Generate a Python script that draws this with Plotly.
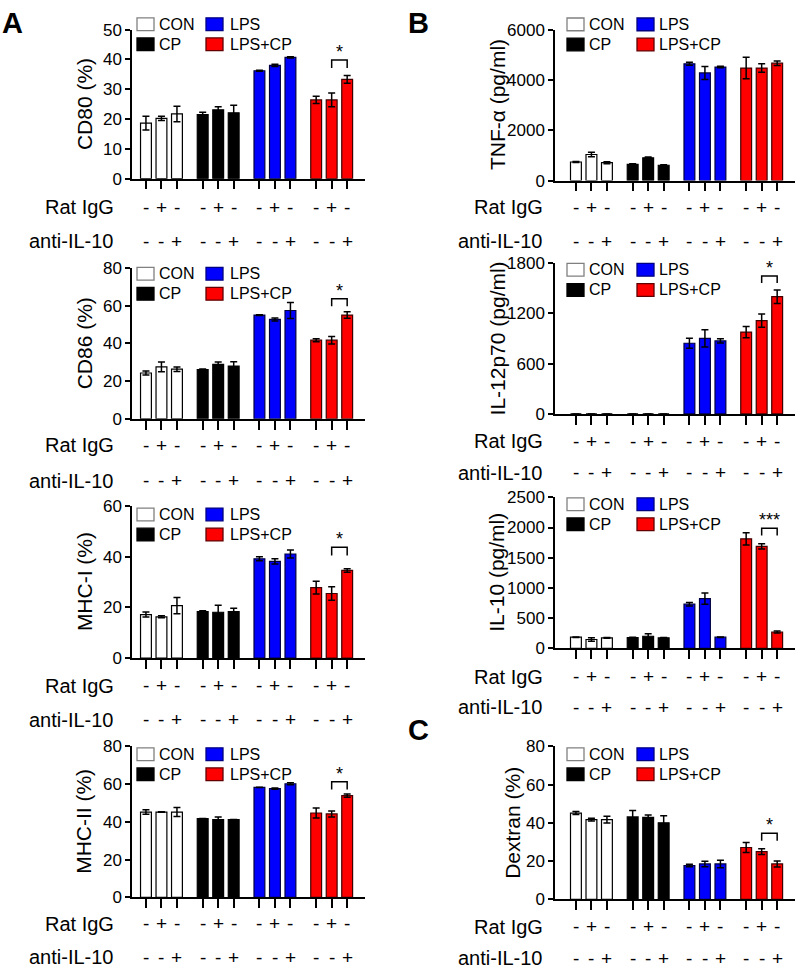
import plotly.graph_objects as go

W, H = 796, 976
FONT = "Liberation Sans, Arial, sans-serif"

# ---------------- data ----------------
groups = ["CON", "CP", "LPS", "LPS+CP"]
rat_igg = ["-", "+", "-"] * 4
anti_il10 = ["-", "-", "+"] * 4

cd80 = [18.6, 20.2, 21.7, 21.5, 23.1, 22.1, 36.2, 38.0, 40.7, 26.4, 26.4, 33.3]
cd80_err = [2.3, 0.7, 2.6, 0.8, 1.0, 2.5, 0.2, 0.4, 0.2, 1.2, 2.3, 1.3]

cd86 = [24.3, 27.5, 26.3, 26.1, 28.9, 28.0, 55.0, 52.7, 57.4, 41.7, 41.7, 55.0]
cd86_err = [1.0, 2.6, 1.2, 0.3, 1.2, 2.2, 0.2, 0.8, 4.2, 0.8, 2.0, 1.7]

mhc1 = [17.2, 16.3, 20.7, 18.4, 18.1, 18.4, 39.2, 38.2, 41.1, 27.8, 25.5, 34.6]
mhc1_err = [1.0, 0.4, 3.2, 0.3, 2.8, 1.3, 0.8, 1.0, 1.6, 2.5, 2.7, 0.7]

mhc2 = [45.2, 45.2, 45.2, 41.7, 41.2, 41.2, 58.3, 57.6, 60.2, 44.7, 44.2, 53.9]
mhc2_err = [1.2, 0.1, 2.4, 0.1, 1.4, 0.1, 0.1, 0.3, 0.5, 2.7, 1.6, 0.9]

tnf = [739, 1037, 713, 648, 907, 609, 4639, 4277, 4510, 4471, 4471, 4665]
tnf_err = [20, 90, 40, 20, 30, 20, 60, 260, 30, 428, 170, 90]

il12 = [0, 0, 0, 0, 0, 0, 843, 902, 871, 976, 1113, 1398]
il12_err = [0, 0, 0, 0, 0, 0, 59, 103, 25, 68, 78, 80]

il10 = [184, 146, 173, 179, 200, 173, 730, 822, 184, 1812, 1688, 270]
il10_err = [5, 30, 5, 5, 40, 5, 30, 92, 5, 100, 45, 15]

dextran = [45.1, 41.7, 41.7, 43.1, 42.9, 40.0, 17.7, 18.5, 18.5, 27.1, 24.9, 18.5]
dextran_err = [0.8, 0.7, 1.8, 3.3, 1.2, 3.7, 0.7, 1.4, 2.0, 2.6, 1.5, 1.6]

# y-axis titles, ranges, tick step, significance (bracket level, leg level, label)
titles = ["CD80 (%)", "CD86 (%)", "MHC-I (%)", "MHC-II (%)",
          "TNF-α (pg/ml)", "IL-12p70 (pg/ml)", "IL-10 (pg/ml)", "Dextran (%)"]
values = [cd80, cd86, mhc1, mhc2, tnf, il12, il10, dextran]
errors = [cd80_err, cd86_err, mhc1_err, mhc2_err, tnf_err, il12_err, il10_err, dextran_err]
ymax = [50, 80, 60, 80, 6000, 1800, 2500, 80]
ystep = [10, 20, 20, 20, 2000, 600, 500, 20]
sig = [(39.8, 37.1, "*"), (63.7, 59.7, "*"), (43.8, 40.5, "*"), (61.2, 57.2, "*"),
       None, (1644, 1562, "*"), (1986, 1866, "***"), (34.5, 30.6, "*")]

# ---------------- styles / layout geometry ----------------
fills = ["white", "black", "#0000ff", "#ff0000"]
edges = ["black", "black", "#000040", "#400000"]
swatch_lines = ["#808080", "black", "#000080", "#600000"]

LEFT = dict(x0=132, x1=365, xr=[-0.9, 14.13], tx=84, sw=137, st=157, sw2=206, st2=228, lab=116)
RIGHT = dict(x0=555, x1=795, xr=[-1.35, 14.13], tx=497, sw=567, st=587, sw2=637, st2=657, lab=545)
geo = [
    dict(c=LEFT, top=21, bot=173, rat=202, anti=237, leg=15.5),
    dict(c=LEFT, top=264, bot=418, rat=445, anti=481, leg=270),
    dict(c=LEFT, top=507, bot=662, rat=690, anti=725, leg=515.5),
    dict(c=LEFT, top=752, bot=906, rat=933, anti=967, leg=760),
    dict(c=RIGHT, top=21, bot=175, rat=202, anti=237, leg=15.7),
    dict(c=RIGHT, top=259, bot=413, rat=441, anti=473, leg=266),
    dict(c=RIGHT, top=498, bot=652, rat=681, anti=712, leg=505),
    dict(c=RIGHT, top=752, bot=908, rat=936, anti=968, leg=760, tx=513),
]

GROUP_STEP = 3.66
xs = [g * GROUP_STEP + i for g in range(4) for i in range(3)]


def px(x):
    return x / W


def py(y):
    return 1 - y / H


fig = go.Figure()
annotations = []
shapes = []
layout = {}

for k in range(8):
    g = geo[k]
    c = g["c"]
    suf = "" if k == 0 else str(k + 1)
    xa, ya = "x" + suf, "y" + suf
    vals, errs = values[k], errors[k]

    for gi, grp in enumerate(groups):
        sl = slice(gi * 3, gi * 3 + 3)
        fig.add_trace(go.Bar(
            x=xs[sl], y=vals[sl], width=0.7, name=grp, showlegend=False,
            marker=dict(color=fills[gi], line=dict(color=edges[gi], width=1.2)),
            error_y=dict(type="data", array=errs[sl], color="black", thickness=1.5, width=3.5),
            xaxis=xa, yaxis=ya,
        ))

    layout["xaxis" + suf] = dict(
        domain=[px(c["x0"]), px(c["x1"])], range=c["xr"], anchor=ya,
        tickvals=xs, ticktext=[""] * len(xs), ticks="outside", ticklen=9,
        tickwidth=1.5, tickcolor="black", showline=True, linecolor="black",
        linewidth=1.5, showgrid=False, zeroline=False, fixedrange=True,
    )
    layout["yaxis" + suf] = dict(
        domain=[py(g["bot"]), py(g["top"])], range=[0, ymax[k]], anchor=xa,
        tickvals=list(range(0, ymax[k] + 1, ystep[k])), ticks="outside", ticklen=5,
        tickwidth=1.5, tickcolor="black", showline=True, linecolor="black",
        linewidth=1.5, showgrid=False, zeroline=False, fixedrange=True,
        tickfont=dict(size=17, color="black", family=FONT),
    )

    # y-axis title
    annotations.append(dict(
        text=titles[k], xref="paper", yref="paper", x=px(g.get("tx", c["tx"])),
        y=py((g["top"] + g["bot"]) / 2), textangle=-90, showarrow=False,
        xanchor="center", yanchor="middle", font=dict(size=21, color="black", family=FONT),
    ))

    # treatment rows
    for label, row, key in (("Rat IgG", rat_igg, "rat"), ("anti-IL-10", anti_il10, "anti")):
        annotations.append(dict(
            text=label, xref="paper", yref="paper", x=px(c["lab"]), y=py(g[key]),
            xanchor="right", yanchor="middle", showarrow=False,
            font=dict(size=20, color="black", family=FONT),
        ))
        for xi, s in zip(xs, row):
            annotations.append(dict(
                text=s, xref=xa, yref="paper", x=xi, y=py(g[key]),
                xanchor="center", yanchor="middle", showarrow=False,
                font=dict(size=19, color="black", family=FONT),
            ))

    # legend (two rows x two columns)
    for gi, grp in enumerate(groups):
        col = gi // 2
        row = gi % 2
        yc = g["leg"] + 20.5 * row
        sx = c["sw"] if col == 0 else c["sw2"]
        tx = c["st"] if col == 0 else c["st2"]
        shapes.append(dict(
            type="rect", xref="paper", yref="paper",
            x0=px(sx), x1=px(sx + 17), y0=py(yc + 6.5), y1=py(yc - 6.5),
            fillcolor=fills[gi], line=dict(color=swatch_lines[gi], width=1.3),
        ))
        annotations.append(dict(
            text=grp, xref="paper", yref="paper", x=px(tx), y=py(yc),
            xanchor="left", yanchor="middle", showarrow=False,
            font=dict(size=16, color="black", family=FONT),
        ))

    # significance bracket
    if sig[k] is not None:
        yb, yl, lab = sig[k]
        xa0, xa1 = xs[10], xs[11]
        shapes.append(dict(
            type="path", xref=xa, yref=ya,
            path=f"M {xa0},{yl} L {xa0},{yb} L {xa1},{yb} L {xa1},{yl}",
            line=dict(color="black", width=1.5),
        ))
        annotations.append(dict(
            text=lab, xref=xa, yref=ya, x=(xa0 + xa1) / 2, y=yb,
            xanchor="center", yanchor="bottom", yshift=-4, showarrow=False,
            font=dict(size=18, color="black", family=FONT),
        ))

# panel letters
for letter, (lx, ly) in zip("ABC", [(12, 14), (418, 14), (418, 735)]):
    annotations.append(dict(
        text=f"<b>{letter}</b>", xref="paper", yref="paper", x=px(lx), y=py(ly),
        xanchor="center", yanchor="middle", showarrow=False,
        font=dict(size=29, color="black", family=FONT),
    ))

fig.update_layout(
    width=W, height=H, margin=dict(l=0, r=0, t=0, b=0),
    paper_bgcolor="white", plot_bgcolor="white", barmode="overlay",
    font=dict(family=FONT, color="black"),
    annotations=annotations, shapes=shapes, showlegend=False,
    **layout,
)

fig.write_html(
    "out.html",
    config={"displayModeBar": False},
    post_script="document.body.style.margin='0';document.body.style.overflow='hidden';",
)
